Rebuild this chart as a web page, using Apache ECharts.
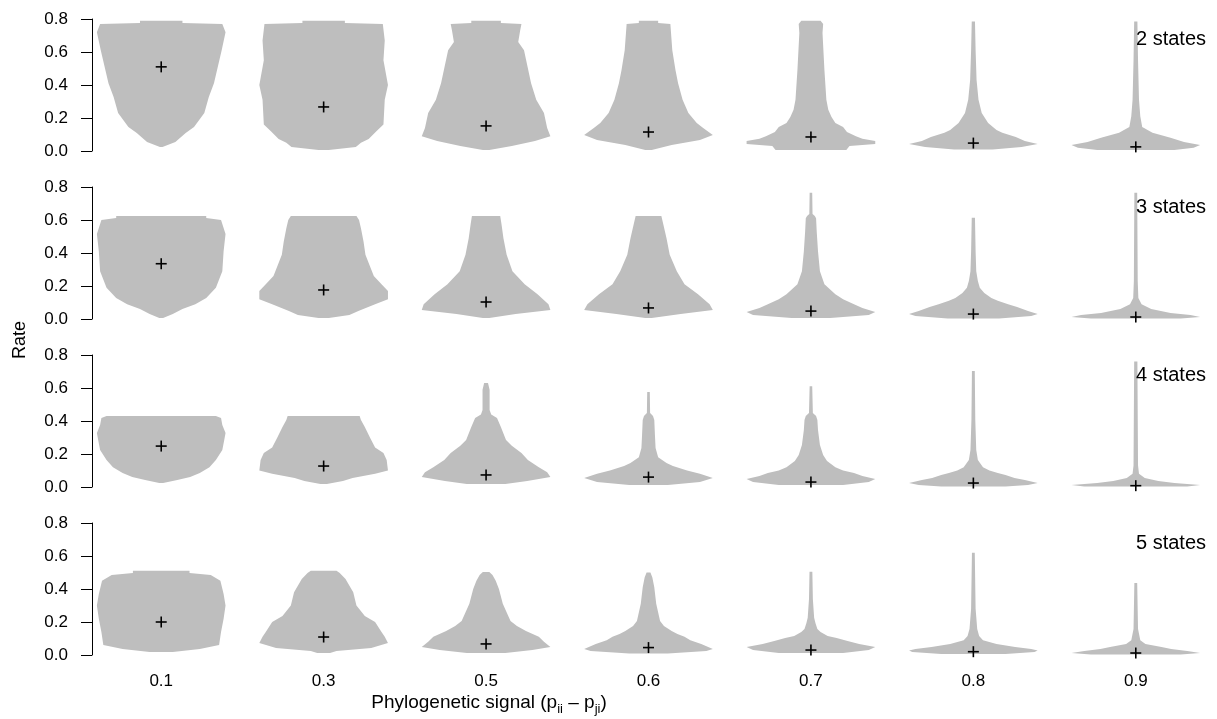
<!DOCTYPE html>
<html><head><meta charset="utf-8">
<script src="https://cdn.jsdelivr.net/npm/echarts@6/dist/echarts.min.js"></script>
<style>html,body{margin:0;padding:0;background:#fff}#c{width:1217px;height:719px}</style>
</head><body><div id="c"></div>
<script>
const categories = ['0.1','0.3','0.5','0.6','0.7','0.8','0.9'];
const panelLabels = ['2 states','3 states','4 states','5 states'];
const yTickLabels = ['0.0','0.2','0.4','0.6','0.8'];

// medians (the "+" marks) per panel
const medians2 = [0.51, 0.267, 0.152, 0.115, 0.085, 0.048, 0.025];
const medians3 = [0.335, 0.176, 0.103, 0.067, 0.048, 0.03, 0.012];
const medians4 = [0.248, 0.127, 0.073, 0.06, 0.03, 0.024, 0.008];
const medians5 = [0.2, 0.109, 0.067, 0.045, 0.03, 0.02, 0.012];

// violin profiles: [rate, relative half-width] from bottom to top
const violins2 = [
  [[0.024,0.02],[0.055,0.22],[0.109,0.38],[0.145,0.51],[0.23,0.67],[0.327,0.74],[0.41,0.82],[0.61,0.94],[0.72,1.0],[0.77,0.95],[0.776,0.33],[0.79,0.33]],
  [[0.006,0.08],[0.024,0.5],[0.05,0.58],[0.073,0.7],[0.12,0.82],[0.16,0.93],[0.31,0.95],[0.4,1.0],[0.55,0.93],[0.67,0.95],[0.77,0.92],[0.776,0.33],[0.79,0.33]],
  [[0.006,0.05],[0.03,0.4],[0.06,0.76],[0.09,1.0],[0.14,0.95],[0.23,0.9],[0.31,0.78],[0.41,0.7],[0.61,0.59],[0.66,0.5],[0.73,0.53],[0.77,0.55],[0.776,0.23],[0.79,0.23]],
  [[0.006,0.05],[0.036,0.36],[0.067,0.8],[0.097,1.0],[0.14,0.85],[0.17,0.75],[0.23,0.62],[0.31,0.53],[0.41,0.46],[0.49,0.42],[0.61,0.37],[0.77,0.34],[0.776,0.15],[0.79,0.15]],
  [[0.006,0.55],[0.03,0.6],[0.042,1.0],[0.06,1.0],[0.075,0.8],[0.09,0.7],[0.115,0.56],[0.145,0.5],[0.17,0.38],[0.206,0.32],[0.25,0.27],[0.31,0.24],[0.49,0.21],[0.715,0.18],[0.77,0.19],[0.79,0.15]],
  [[0.009,0.3],[0.024,0.75],[0.042,1.0],[0.06,0.8],[0.085,0.66],[0.11,0.45],[0.127,0.36],[0.17,0.23],[0.23,0.13],[0.31,0.08],[0.43,0.05],[0.61,0.035],[0.785,0.025]],
  [[0.006,0.6],[0.02,0.9],[0.036,1.0],[0.055,0.75],[0.08,0.54],[0.11,0.26],[0.145,0.1],[0.21,0.07],[0.31,0.05],[0.55,0.035],[0.785,0.025]]
];
const violins3 = [
  [[0.006,0.03],[0.03,0.18],[0.06,0.33],[0.09,0.53],[0.127,0.7],[0.19,0.85],[0.29,0.95],[0.41,0.97],[0.515,1.0],[0.6,0.93],[0.612,0.7],[0.624,0.7]],
  [[0.006,0.08],[0.024,0.4],[0.048,0.54],[0.09,0.8],[0.12,1.0],[0.17,1.0],[0.21,0.9],[0.26,0.78],[0.32,0.72],[0.39,0.65],[0.47,0.62],[0.55,0.58],[0.6,0.55],[0.624,0.51]],
  [[0.006,0.05],[0.03,0.46],[0.055,1.0],[0.09,0.97],[0.15,0.8],[0.21,0.6],[0.29,0.41],[0.39,0.32],[0.49,0.27],[0.575,0.24],[0.624,0.22]],
  [[0.006,0.05],[0.03,0.5],[0.055,1.0],[0.09,0.95],[0.15,0.77],[0.21,0.56],[0.29,0.44],[0.39,0.33],[0.49,0.28],[0.575,0.23],[0.624,0.2]],
  [[0.006,0.3],[0.024,0.9],[0.042,1.0],[0.067,0.8],[0.09,0.67],[0.12,0.5],[0.15,0.38],[0.21,0.21],[0.29,0.14],[0.41,0.11],[0.53,0.09],[0.61,0.08],[0.624,0.06],[0.636,0.025],[0.765,0.02]],
  [[0.003,0.4],[0.018,0.9],[0.03,1.0],[0.048,0.85],[0.073,0.68],[0.09,0.54],[0.11,0.38],[0.127,0.28],[0.157,0.17],[0.19,0.1],[0.23,0.07],[0.29,0.045],[0.41,0.035],[0.614,0.025]],
  [[0.003,0.7],[0.012,1.0],[0.024,0.85],[0.036,0.54],[0.06,0.24],[0.09,0.09],[0.127,0.04],[0.23,0.03],[0.765,0.022]]
];
const violins4 = [
  [[0.024,0.03],[0.042,0.25],[0.06,0.45],[0.085,0.6],[0.12,0.75],[0.164,0.85],[0.224,0.95],[0.285,0.98],[0.327,1.0],[0.376,0.95],[0.418,0.93],[0.43,0.85]],
  [[0.018,0.05],[0.036,0.3],[0.055,0.45],[0.08,0.8],[0.1,1.0],[0.164,0.98],[0.206,0.93],[0.24,0.8],[0.3,0.72],[0.364,0.64],[0.406,0.58],[0.43,0.56]],
  [[0.018,0.3],[0.036,0.64],[0.06,1.0],[0.09,0.95],[0.12,0.82],[0.164,0.65],[0.206,0.55],[0.25,0.4],[0.285,0.31],[0.364,0.23],[0.418,0.17],[0.44,0.08],[0.467,0.055],[0.59,0.055],[0.63,0.03]],
  [[0.012,0.3],[0.03,0.8],[0.055,1.0],[0.08,0.8],[0.1,0.6],[0.127,0.38],[0.145,0.28],[0.18,0.15],[0.236,0.11],[0.315,0.1],[0.406,0.09],[0.43,0.07],[0.448,0.025],[0.576,0.02]],
  [[0.012,0.5],[0.03,0.9],[0.048,1.0],[0.067,0.8],[0.085,0.67],[0.1,0.5],[0.12,0.38],[0.157,0.25],[0.194,0.19],[0.255,0.14],[0.345,0.11],[0.406,0.1],[0.43,0.08],[0.448,0.03],[0.61,0.02]],
  [[0.003,0.5],[0.012,0.85],[0.024,1.0],[0.042,0.8],[0.055,0.64],[0.073,0.5],[0.085,0.38],[0.1,0.25],[0.12,0.15],[0.164,0.07],[0.224,0.045],[0.406,0.03],[0.703,0.022]],
  [[0.003,0.8],[0.012,1.0],[0.024,0.6],[0.036,0.35],[0.055,0.14],[0.08,0.05],[0.13,0.035],[0.76,0.025]]
];
const violins5 = [
  [[0.018,0.18],[0.036,0.6],[0.06,0.9],[0.14,0.93],[0.22,0.97],[0.3,1.0],[0.37,0.97],[0.45,0.92],[0.485,0.77],[0.497,0.44],[0.51,0.44]],
  [[0.012,0.1],[0.024,0.2],[0.042,0.74],[0.073,1.0],[0.11,0.95],[0.14,0.9],[0.2,0.8],[0.236,0.64],[0.3,0.51],[0.38,0.46],[0.46,0.34],[0.497,0.25],[0.51,0.2]],
  [[0.012,0.3],[0.03,0.72],[0.048,1.0],[0.08,0.9],[0.11,0.82],[0.145,0.62],[0.176,0.48],[0.206,0.38],[0.31,0.26],[0.4,0.2],[0.45,0.15],[0.485,0.1],[0.503,0.05]],
  [[0.009,0.3],[0.024,0.9],[0.036,1.0],[0.067,0.82],[0.09,0.65],[0.11,0.56],[0.127,0.45],[0.145,0.36],[0.176,0.24],[0.206,0.18],[0.31,0.12],[0.41,0.09],[0.47,0.06],[0.5,0.03]],
  [[0.012,0.5],[0.03,0.9],[0.048,1.0],[0.067,0.75],[0.085,0.57],[0.103,0.4],[0.115,0.26],[0.14,0.15],[0.158,0.1],[0.194,0.07],[0.226,0.05],[0.34,0.03],[0.505,0.022]],
  [[0.006,0.5],[0.018,0.95],[0.027,1.0],[0.036,0.9],[0.048,0.65],[0.067,0.36],[0.09,0.15],[0.115,0.09],[0.158,0.06],[0.28,0.035],[0.62,0.022]],
  [[0.003,0.7],[0.012,1.0],[0.024,0.8],[0.036,0.55],[0.048,0.4],[0.067,0.15],[0.09,0.07],[0.158,0.035],[0.436,0.022]]
];

const panels = [
  {label: panelLabels[0], medians: medians2, violins: violins2},
  {label: panelLabels[1], medians: medians3, violins: violins3},
  {label: panelLabels[2], medians: medians4, violins: violins4},
  {label: panelLabels[3], medians: medians5, violins: violins5}
];

const FONT = '"Liberation Sans", Arial, Helvetica, sans-serif';
const gridTops = [19, 187, 355, 523];
const gridH = 132;
const GREY = '#bebebe';

function violinRender(profiles) {
  return function (params, api) {
    const ci = api.value(0);
    const prof = profiles[ci];
    const band = api.size([1, 0])[0];
    const maxHalf = band * 0.396;
    const right = [], left = [];
    prof.forEach(function (pt) {
      const p = api.coord([ci, pt[0]]);
      right.push([p[0] + pt[1] * maxHalf, p[1]]);
      left.push([p[0] - pt[1] * maxHalf, p[1]]);
    });
    return {type: 'polygon', shape: {points: right.concat(left.reverse())}, style: {fill: GREY, stroke: null}};
  };
}
function plusRender(params, api) {
  const p = api.coord([api.value(0), api.value(1)]);
  const s = 5.5;
  return {type: 'group', children: [
    {type: 'line', shape: {x1: p[0] - s, y1: p[1], x2: p[0] + s, y2: p[1]}, style: {stroke: '#000', lineWidth: 1.6}},
    {type: 'line', shape: {x1: p[0], y1: p[1] - s, x2: p[0], y2: p[1] + s}, style: {stroke: '#000', lineWidth: 1.6}}
  ]};
}

const grid = [], xAxis = [], yAxis = [], series = [], graphic = [];
panels.forEach(function (pn, i) {
  grid.push({left: 80, width: 1148, top: gridTops[i], height: gridH});
  xAxis.push({
    type: 'category', gridIndex: i, data: categories, boundaryGap: true,
    show: i === 3,
    axisLine: {show: false}, axisTick: {show: false}, splitLine: {show: false},
    axisLabel: {show: i === 3, fontSize: 17, color: '#000', fontFamily: FONT, margin: 18}
  });
  yAxis.push({
    type: 'value', gridIndex: i, min: 0, max: 0.8, interval: 0.2, offset: -12,
    axisLine: {show: true, lineStyle: {color: '#000', width: 1}},
    axisTick: {show: true, length: 11, lineStyle: {color: '#000', width: 1}},
    splitLine: {show: false},
    axisLabel: {fontSize: 17, color: '#000', fontFamily: FONT, margin: 24,
      formatter: function (v) { return yTickLabels[Math.round(v / 0.2)]; }}
  });
  series.push({
    type: 'custom', xAxisIndex: i, yAxisIndex: i, silent: true,
    renderItem: violinRender(pn.violins),
    encode: {x: 0, y: 1},
    data: categories.map(function (c, k) { return [k, pn.medians[k]]; })
  });
  series.push({
    type: 'custom', xAxisIndex: i, yAxisIndex: i, silent: true, z: 5,
    renderItem: plusRender,
    encode: {x: 0, y: 1},
    data: categories.map(function (c, k) { return [k, pn.medians[k]]; })
  });
  graphic.push({
    type: 'text', right: 11, top: gridTops[i] + 10, z: 10,
    style: {text: pn.label, fontSize: 20, fontFamily: FONT, fill: '#000'}
  });
});

graphic.push({
  type: 'text', x: 20, y: 340, rotation: Math.PI / 2,
  style: {text: 'Rate', fontSize: 18, fontFamily: FONT, fill: '#000', align: 'center', verticalAlign: 'middle', textAlign: 'center', textVerticalAlign: 'middle'}
});
graphic.push({
  type: 'text', x: 489, y: 703,
  style: {
    text: '{m|Phylogenetic signal (p}{s|ii}{m| \u2013 p}{s|ji}{m|)}',
    fontFamily: FONT, fill: '#000', align: 'center', verticalAlign: 'middle', textAlign: 'center', textVerticalAlign: 'middle',
    rich: {
      m: {fontSize: 19, fontFamily: FONT, fill: '#000', color: '#000'},
      s: {fontSize: 13, fontFamily: FONT, fill: '#000', color: '#000', verticalAlign: 'bottom', padding: [0, 0, -3, 0]}
    }
  }
});

const chart = echarts.init(document.getElementById('c'), null, {renderer: 'canvas'});
chart.setOption({
  animation: false,
  backgroundColor: '#fff',
  grid: grid, xAxis: xAxis, yAxis: yAxis, series: series, graphic: graphic
});
</script>
</body></html>
